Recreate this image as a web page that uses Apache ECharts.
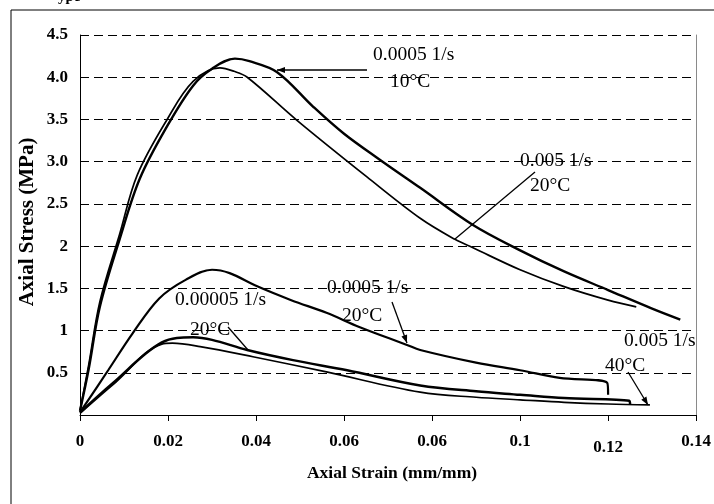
<!DOCTYPE html>
<html>
<head>
<meta charset="utf-8">
<script src="https://cdn.jsdelivr.net/npm/echarts@6/dist/echarts.min.js"></script>
<style>
html,body{margin:0;padding:0;background:#fff;}
#c{width:714px;height:504px;}
</style>
</head>
<body>
<div id="c"></div>
<script>
// ---- data: [axial strain (mm/mm), axial stress (MPa)] ----
var curve10C_00005 = [[0,0.05],[0.002,0.55],[0.0045,1.28],[0.009,2.08],[0.0136,2.8],[0.0198,3.42],[0.0257,3.9],[0.03,4.1],[0.0352,4.22],[0.0385,4.19],[0.0448,4.06],[0.053,3.65],[0.06,3.33],[0.0682,3.02],[0.0773,2.69],[0.0893,2.25],[0.1,1.95],[0.11,1.7],[0.12,1.48],[0.13,1.26],[0.1364,1.13]];
var curve20C_0005 = [[0,0.05],[0.002,0.6],[0.0045,1.34],[0.009,2.14],[0.013,2.84],[0.0198,3.5],[0.0257,3.95],[0.0318,4.11],[0.035,4.07],[0.038,4.0],[0.0493,3.49],[0.0652,2.82],[0.0773,2.33],[0.0852,2.08],[0.0893,1.98],[0.1,1.72],[0.11,1.52],[0.12,1.36],[0.1264,1.28]];
var curve20C_00005b = [[0,0.03],[0.0064,0.53],[0.012,0.97],[0.018,1.38],[0.024,1.6],[0.03,1.72],[0.034,1.68],[0.04,1.53],[0.048,1.36],[0.056,1.21],[0.0636,1.04],[0.0743,0.83],[0.0773,0.77],[0.09,0.62],[0.1,0.53],[0.109,0.44],[0.1198,0.38],[0.12,0.24]];
var curve20C_000005 = [[0,0.03],[0.0075,0.38],[0.0186,0.86],[0.0257,0.92],[0.03,0.89],[0.038,0.77],[0.0484,0.65],[0.0607,0.53],[0.0773,0.35],[0.09,0.28],[0.1,0.24],[0.11,0.2],[0.1248,0.17],[0.125,0.12]];
var curve40C_0005 = [[0,0.02],[0.0075,0.36],[0.0186,0.84],[0.021,0.85],[0.0273,0.81],[0.0393,0.69],[0.056,0.51],[0.0773,0.27],[0.09,0.21],[0.1,0.18],[0.11,0.15],[0.12,0.13],[0.1295,0.12]];

var xTickLabels = ['0','0.02','0.04','0.06','0.06','0.1','0.12','0.14'];
var yTickLabels = ['','0.5','1','1.5','2','2.5','3.0','3.5','4.0','4.5'];

var xTitle = 'Axial Strain (mm/mm)';
var yTitle = 'Axial Stress (MPa)';

var notes = [
  {text:'0.0005 1/s', x:373, y:55},
  {text:'10\u00B0C', x:390, y:82},
  {text:'0.005 1/s', x:520, y:161},
  {text:'20\u00B0C', x:530, y:186},
  {text:'0.0005 1/s', x:327, y:288},
  {text:'20\u00B0C', x:342, y:316},
  {text:'0.00005 1/s', x:175, y:300},
  {text:'20\u00B0C', x:190, y:330},
  {text:'0.005 1/s', x:624, y:341},
  {text:'40\u00B0C', x:605, y:366}
];
var arrows = [
  {from:[367,70], to:[277,70], head:true},
  {from:[535,172], to:[455,239], head:false},
  {from:[392,302], to:[407,343], head:true},
  {from:[228,327], to:[248,350], head:false},
  {from:[628,372], to:[648,405], head:true}
];

var SERIF = '"Liberation Serif", "Times New Roman", serif';

function buildArrow(a){
  var els = [{type:'line', shape:{x1:a.from[0],y1:a.from[1],x2:a.to[0],y2:a.to[1]}, style:{stroke:'#000',lineWidth:1.3}, z:20}];
  if(a.head){
    var dx=a.to[0]-a.from[0], dy=a.to[1]-a.from[1];
    var L=Math.sqrt(dx*dx+dy*dy); var ux=dx/L, uy=dy/L;
    var len=8, w=3;
    var bx=a.to[0]-ux*len, by=a.to[1]-uy*len;
    els.push({type:'polygon', shape:{points:[[a.to[0],a.to[1]],[bx-uy*w,by+ux*w],[bx+uy*w,by-ux*w]]}, style:{fill:'#000'}, z:20});
  }
  return els;
}

var graphics = [
  {type:'rect', shape:{x:11,y:10,width:1000,height:1000}, style:{fill:null, stroke:'#000', lineWidth:1}, z:-10, silent:true},
  {type:'text', x:58, y:-10, style:{text:'ype', font:'bold 15px '+SERIF, fill:'#000'}, z:5},
  {type:'text', x:392, y:473, style:{text:xTitle, font:'bold 17.5px '+SERIF, fill:'#000', textAlign:'center', textVerticalAlign:'middle'}},
  {type:'text', x:28, y:222, rotation:Math.PI/2, style:{text:yTitle, font:'bold 21px '+SERIF, fill:'#000', textAlign:'center', textVerticalAlign:'middle'}}
];
notes.forEach(function(n){
  graphics.push({type:'text', x:n.x, y:n.y, style:{text:n.text, font:'19.5px '+SERIF, fill:'#000', textAlign:'left', textVerticalAlign:'middle'}, z:15});
});
arrows.forEach(function(a){ graphics = graphics.concat(buildArrow(a)); });

function mkSeries(data, w){
  return {type:'line', data:data, showSymbol:false, smooth:0.35, lineStyle:{color:'#000', width:w}, itemStyle:{color:'#000'}, z:10, animation:false};
}

var chart = echarts.init(document.getElementById('c'), null, {renderer:'canvas'});
chart.setOption({
  animation:false,
  backgroundColor:'#fff',
  grid:{left:80, right:17, top:35, bottom:89, containLabel:false},
  xAxis:{
    type:'value', min:0, max:0.14, interval:0.02,
    axisLine:{show:true, onZero:false, lineStyle:{color:'#000', width:1}},
    axisTick:{show:true, length:6, lineStyle:{color:'#000'}},
    splitLine:{show:false},
    axisLabel:{
      margin:18, color:'#000', fontFamily:SERIF, fontWeight:'bold', fontSize:17,
      formatter:function(v){ var i=Math.round(v/0.02); var t=xTickLabels[i]; return i===6 ? '{low|'+t+'}' : t; },
      rich:{low:{padding:[6,0,0,0], fontFamily:SERIF, fontWeight:'bold', fontSize:17, color:'#000'}}
    }
  },
  yAxis:[{
    type:'value', min:0, max:4.5, interval:0.5,
    axisLine:{show:true, lineStyle:{color:'#000', width:1}},
    axisTick:{show:false},
    splitLine:{show:true, lineStyle:{color:'#000', width:1, type:[9,5]}},
    axisLabel:{
      margin:12, color:'#000', fontFamily:SERIF, fontWeight:'bold', fontSize:17,
      formatter:function(v){ return yTickLabels[Math.round(v/0.5)]; }
    }
  },{
    type:'value', min:0, max:4.5, interval:0.5, position:'right',
    axisLine:{show:true, lineStyle:{color:'#8a8a8a', width:1}},
    axisTick:{show:false}, axisLabel:{show:false}, splitLine:{show:false}
  }],
  series:[
    mkSeries(curve10C_00005, 2.4),
    mkSeries(curve20C_0005, 1.7),
    mkSeries(curve20C_00005b, 2.2),
    mkSeries(curve20C_000005, 2.5),
    mkSeries(curve40C_0005, 1.7)
  ],
  graphic:graphics
});
</script>
</body>
</html>
